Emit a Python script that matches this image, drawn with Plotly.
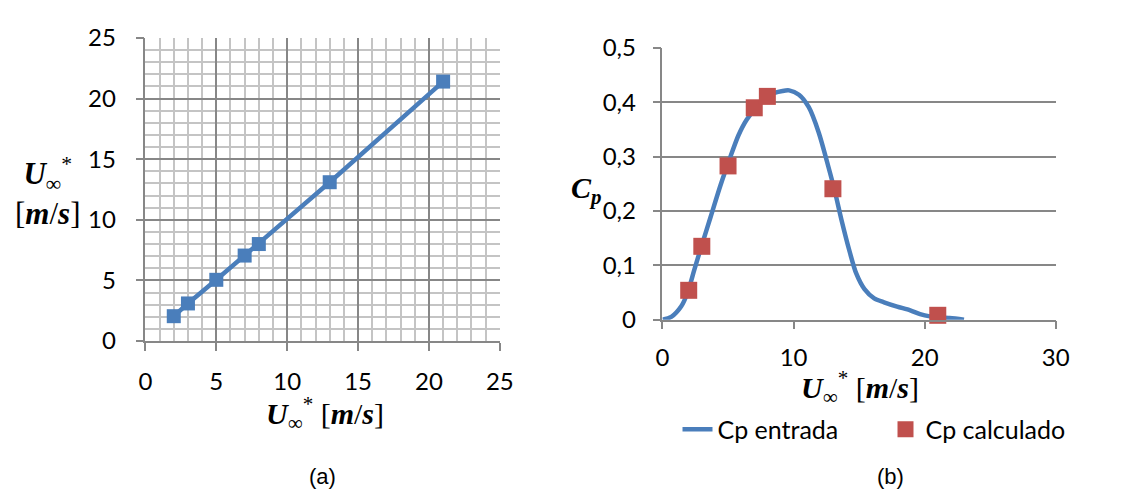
import plotly.graph_objects as go

# ---- data (a): U_inf* vs U_inf*
u_a = [2, 3, 5, 7, 8, 13, 21]
u_star_a = [2.05, 3.1, 5.05, 7.05, 8.0, 13.1, 21.4]

# ---- data (b): Cp entrada curve
u_curve = [0, 0.67, 1.42, 1.92, 2.42, 2.92, 3.67, 4.42, 5.17, 5.79, 6.42, 7.17, 8.16,
           9.16, 9.66, 10.41, 11.16, 11.91, 12.66, 13.16, 13.66, 14.28, 14.78, 15.41,
           16.15, 16.9, 17.9, 18.9, 19.65, 20.4, 21.9, 23.0]
cp_curve = [0, 0.005, 0.024, 0.05, 0.091, 0.131, 0.189, 0.247, 0.299, 0.339, 0.368, 0.391,
            0.414, 0.421, 0.422, 0.414, 0.391, 0.345, 0.281, 0.235, 0.183, 0.125, 0.085,
            0.056, 0.039, 0.032, 0.024, 0.017, 0.010, 0.006, 0.003, 0.0]

# ---- data (b): Cp calculado points
u_calc = [2, 3, 5, 7, 8, 13, 21]
cp_calc = [0.054, 0.135, 0.283, 0.39, 0.411, 0.241, 0.008]

BLUE = "#4A7EBB"
RED = "#C0504D"
MAJ = "#878787"
MIN = "#C4C4C4"
TICKFONT = dict(family="Lato", size=24, color="#000000")
MATHFONT = dict(family="Liberation Serif", size=30, color="#000000")

W, H = 1148, 501
def px(x):
    return x / W
def py(y):
    return 1 - y / H

fig = go.Figure()

fig.add_trace(go.Scatter(
    x=u_a, y=u_star_a, mode="lines+markers", xaxis="x", yaxis="y",
    line=dict(color=BLUE, width=4.5),
    marker=dict(symbol="square", size=14, color=BLUE, line=dict(width=0)),
    showlegend=False, cliponaxis=False))

fig.add_trace(go.Scatter(
    x=u_curve, y=cp_curve, mode="lines", xaxis="x2", yaxis="y2",
    line=dict(color=BLUE, width=4.5, shape="spline", smoothing=0.8),
    name="Cp entrada", cliponaxis=False))

fig.add_trace(go.Scatter(
    x=u_calc, y=cp_calc, mode="markers", xaxis="x2", yaxis="y2",
    marker=dict(symbol="square", size=17, color=RED, line=dict(width=0)),
    name="Cp calculado", cliponaxis=False))

U_LABEL = "<b><i>U</i></b><sub>∞</sub><sup>*</sup> [<b><i>m</i></b>/<b><i>s</i></b>]"

fig.update_layout(
    width=W, height=H,
    margin=dict(l=0, r=0, t=0, b=0),
    paper_bgcolor="white", plot_bgcolor="white",
    separators=",.",
    xaxis=dict(
        domain=[px(141), px(502)], range=[0, 25], dtick=5, tick0=0,
        showgrid=True, gridcolor=MAJ, gridwidth=1.5,
        minor=dict(dtick=1, showgrid=True, gridcolor=MIN, gridwidth=1.5, ticks=""),
        showline=True, linecolor=MAJ, linewidth=1.5,
        ticks="outside", ticklen=8, tickcolor=MAJ, tickwidth=1.5,
        tickfont=TICKFONT, ticklabelstandoff=10, zeroline=False,
        anchor="y"),
    yaxis=dict(
        domain=[py(345), py(23.3)], range=[0, 25], dtick=5, tick0=0,
        showgrid=True, gridcolor=MAJ, gridwidth=1.5,
        minor=dict(dtick=1, showgrid=True, gridcolor=MIN, gridwidth=1.5, ticks=""),
        showline=True, linecolor=MAJ, linewidth=1.5,
        ticks="outside", ticklen=8, tickcolor=MAJ, tickwidth=1.5,
        tickfont=TICKFONT, ticklabelstandoff=15, zeroline=False,
        anchor="x"),
    xaxis2=dict(
        domain=[px(667.7), px(1068.3)], range=[0, 30], dtick=10, tick0=0,
        showgrid=False,
        showline=True, linecolor=MAJ, linewidth=1.5,
        ticks="outside", ticklen=8, tickcolor=MAJ, tickwidth=1.5,
        tickfont=TICKFONT, ticklabelstandoff=8, zeroline=False,
        anchor="y2"),
    yaxis2=dict(
        domain=[py(322.3), py(34)], range=[0, 0.5], dtick=0.1, tick0=0,
        showgrid=True, gridcolor=MAJ, gridwidth=1.5,
        showline=True, linecolor=MAJ, linewidth=1.5,
        ticks="outside", ticklen=8, tickcolor=MAJ, tickwidth=1.5,
        tickfont=TICKFONT, ticklabelstandoff=12, zeroline=False,
        anchor="x2"),
    legend=dict(
        orientation="h", x=px(683), y=py(439), xanchor="left", yanchor="middle",
        font=dict(family="Lato", size=25, color="#000000"),
        bgcolor="rgba(0,0,0,0)", entrywidth=163, entrywidthmode="pixels",
        itemwidth=30),
    annotations=[
        dict(text=U_LABEL, x=px(324), y=py(422), xref="paper", yref="paper",
             showarrow=False, font=MATHFONT, xanchor="center", yanchor="middle"),
        dict(text="<b><i>U</i></b><sub>∞</sub><sup>*</sup><br>[<b><i>m</i></b>/<b><i>s</i></b>]",
             x=px(41), y=py(186), xref="paper", yref="paper",
             showarrow=False, font=dict(family="Liberation Serif", size=31, color="#000000"),
             xanchor="center", yanchor="middle"),
        dict(text=U_LABEL, x=px(869), y=py(394), xref="paper", yref="paper",
             showarrow=False, font=MATHFONT, xanchor="center", yanchor="middle"),
        dict(text="<b><i>C</i></b><sub><b><i>p</i></b></sub>",
             x=px(590), y=py(185), xref="paper", yref="paper",
             showarrow=False, font=MATHFONT, xanchor="center", yanchor="middle"),
        dict(text="(a)", x=px(321), y=py(489), xref="paper", yref="paper",
             showarrow=False, font=dict(family="Liberation Sans", size=22, color="#000000"),
             xanchor="center", yanchor="middle"),
        dict(text="(b)", x=px(900), y=py(489), xref="paper", yref="paper",
             showarrow=False, font=dict(family="Liberation Sans", size=22, color="#000000"),
             xanchor="center", yanchor="middle"),
    ],
)

fig.write_html("out.html")
